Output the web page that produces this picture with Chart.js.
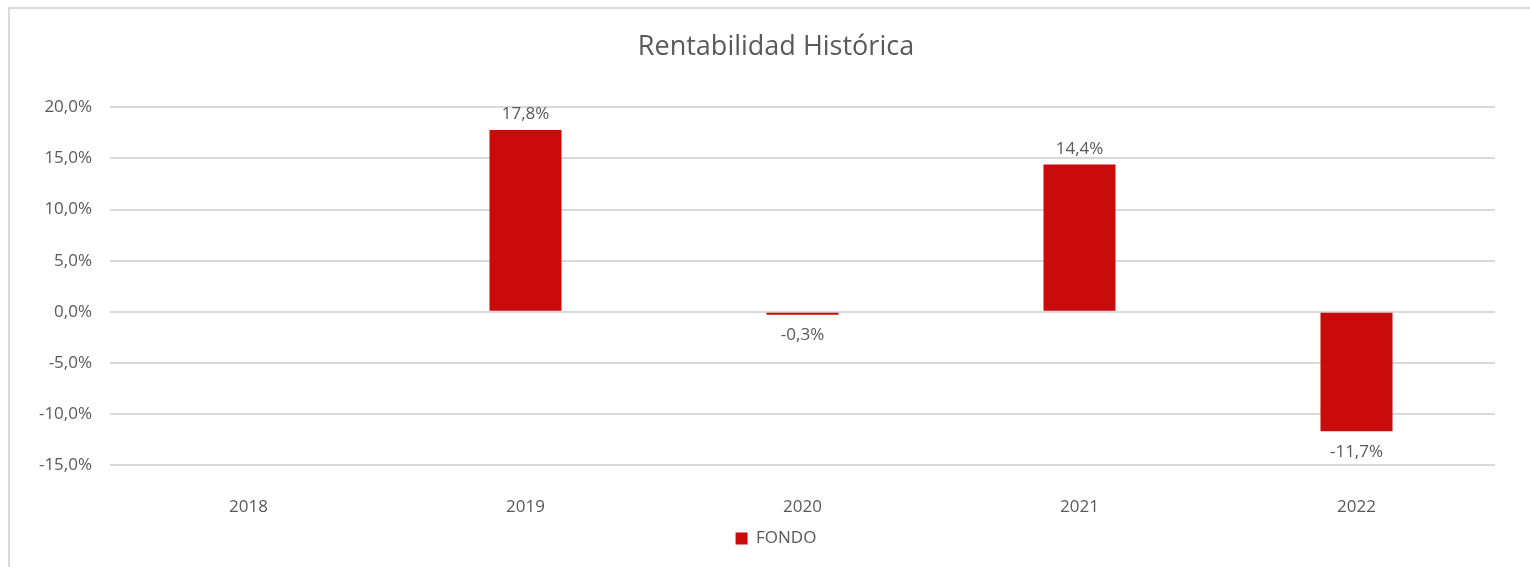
<!DOCTYPE html>
<html>
<head>
<meta charset="utf-8">
<script src="https://cdn.jsdelivr.net/npm/chart.js@4.4.1/dist/chart.umd.min.js"></script>
<style>
  html, body { margin: 0; padding: 0; background: #fff; overflow: hidden; }
  #marco { position: absolute; left: 8px; top: 7px; width: 1540px; height: 580px; border: 2px solid #d9d9d9; }
  #caja { position: absolute; left: 0; top: 0; width: 1530px; height: 567px; }
</style>
</head>
<body>
<div id="marco"></div>
<div id="caja"><canvas id="myChart" width="1530" height="567"></canvas></div>
<script>
// datos del gráfico
const anios = ['2018', '2019', '2020', '2021', '2022'];
const rentabilidad = [null, 17.8, -0.3, 14.4, -11.7];
const nombreSerie = 'FONDO';
const titulo = 'Rentabilidad Histórica';

const gris = '#595959';
const rojo = '#C90B0B';
const fuente = 'Open Sans';

function formatoPct(v) {
    return v.toFixed(1).replace('.', ',') + '%';
}

// etiquetas encima / debajo de cada barra
const etiquetas = {
    id: 'etiquetas',
    afterDatasetsDraw(chart) {
        const ctx = chart.ctx;
        const meta = chart.getDatasetMeta(0);
        ctx.save();
        ctx.font = '17px "' + fuente + '"';
        ctx.fillStyle = gris;
        ctx.textAlign = 'center';
        meta.data.forEach((bar, i) => {
            const v = rentabilidad[i];
            if (v === null) return;
            if (v >= 0) {
                ctx.textBaseline = 'bottom';
                ctx.fillText(formatoPct(v), bar.x, bar.y - 7);
            } else {
                ctx.textBaseline = 'top';
                ctx.fillText(formatoPct(v), bar.x, bar.y + 12);
            }
        });
        ctx.restore();
    }
};

const ctx = document.getElementById('myChart').getContext('2d');
new Chart(ctx, {
    type: 'bar',
    data: {
        labels: anios,
        datasets: [{
            label: nombreSerie,
            data: rentabilidad,
            backgroundColor: rojo,
            borderWidth: 0,
            barPercentage: 1,
            categoryPercentage: 0.26
        }]
    },
    options: {
        responsive: false,
        animation: false,
        devicePixelRatio: 1,
        layout: { padding: { left: 22, right: 0, top: 0, bottom: 10 } },
        plugins: {
            title: {
                display: true,
                text: titulo,
                color: gris,
                font: { family: fuente, size: 27, weight: 'normal' },
                padding: { top: 31, bottom: 44 }
            },
            legend: {
                position: 'bottom',
                labels: {
                    color: gris,
                    font: { family: fuente, size: 17 },
                    boxWidth: 12,
                    boxHeight: 12,
                    padding: 6
                }
            },
            tooltip: { enabled: false }
        },
        scales: {
            x: {
                afterFit(scale) { scale.height = 59; },
                grid: { display: false, drawTicks: false },
                border: { display: false },
                ticks: { color: gris, font: { family: fuente, size: 17 }, padding: 32, maxRotation: 0 }
            },
            y: {
                min: -15,
                max: 20,
                afterFit(scale) { scale.width = 88; },
                grid: { color: '#d9d9d9', lineWidth: 2, drawTicks: false },
                border: { display: false },
                ticks: {
                    stepSize: 5,
                    color: gris,
                    font: { family: fuente, size: 17 },
                    padding: 18,
                    callback: v => formatoPct(v)
                }
            },
            // eje vacío a la derecha, solo para dejar el margen
            derecha: {
                position: 'right',
                afterFit(scale) { scale.width = 35; },
                grid: { display: false, drawTicks: false },
                border: { display: false },
                ticks: { display: false }
            }
        }
    },
    plugins: [etiquetas]
});
</script>
</body>
</html>
